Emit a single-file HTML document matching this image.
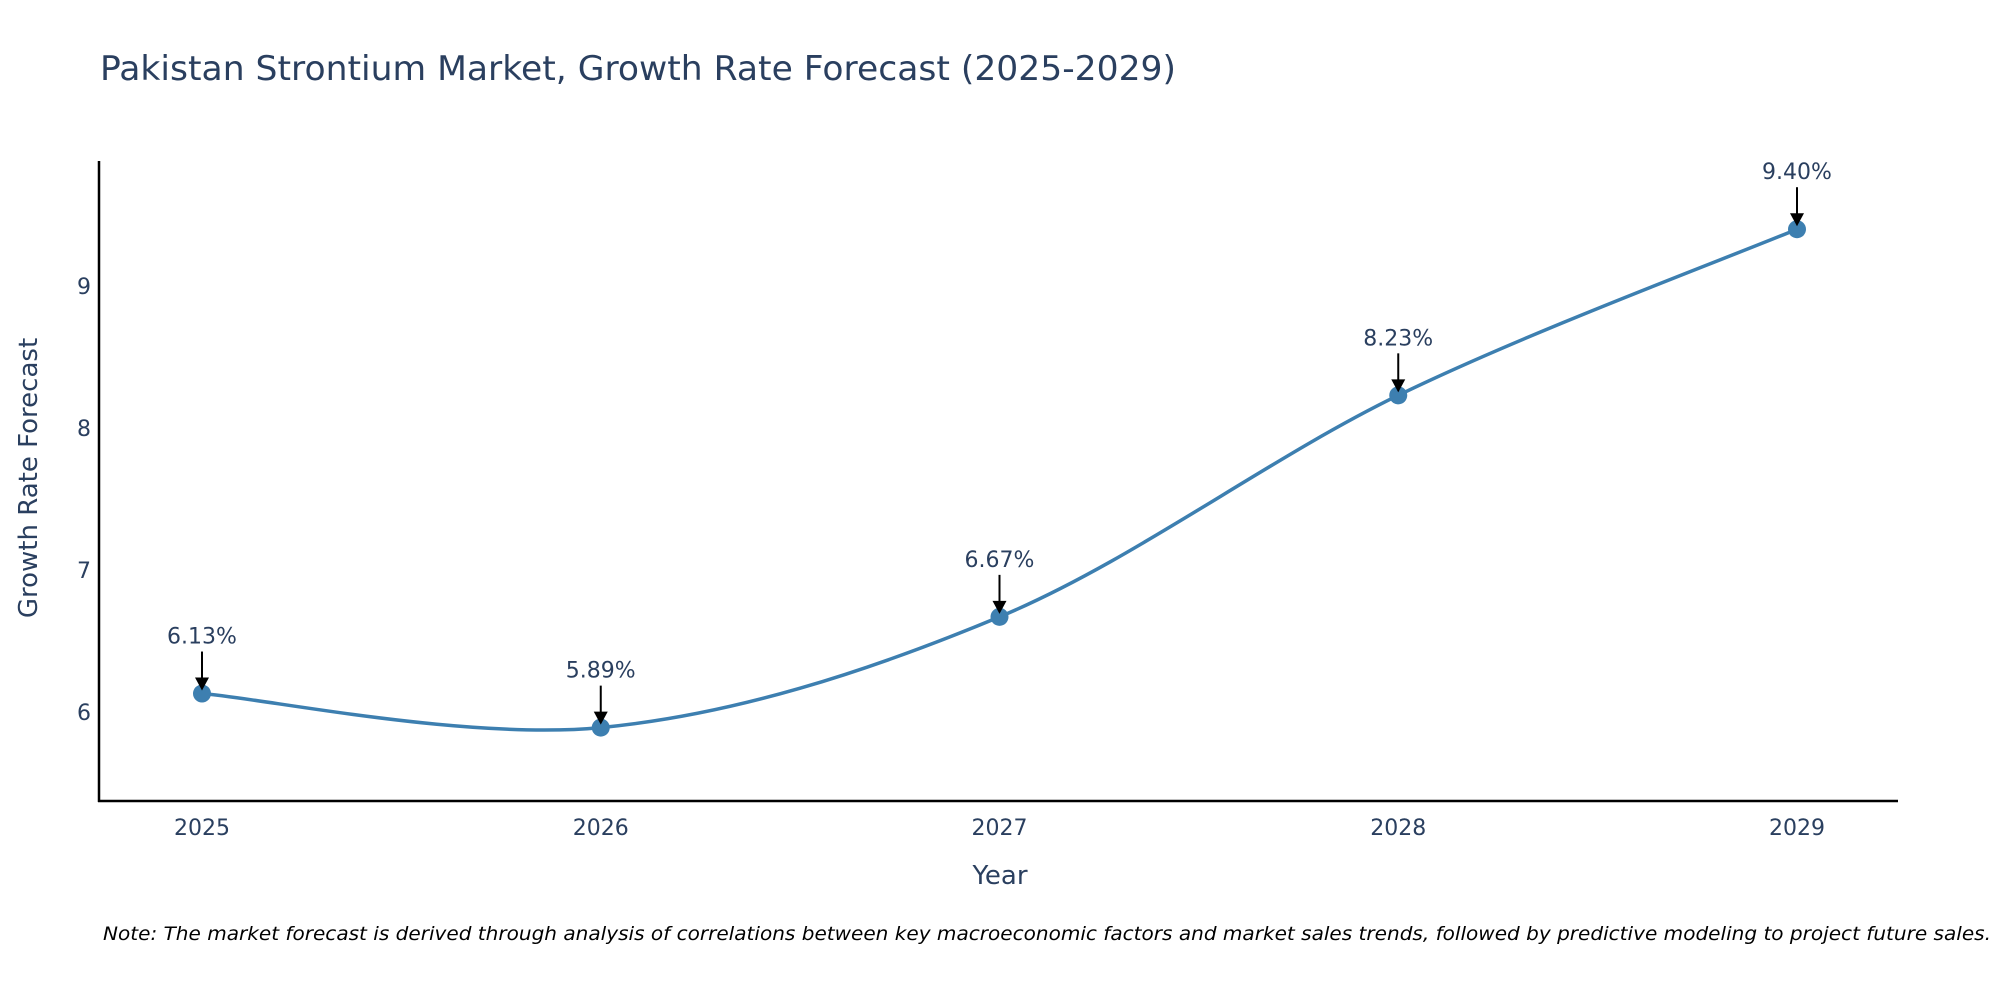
<!DOCTYPE html>
<html><head><meta charset="utf-8"><style>
html,body{margin:0;padding:0;background:#fff;}
svg{display:block;font-family:"DejaVu Sans","Liberation Sans",sans-serif;}
</style></head><body>
<svg id="chart" width="2000" height="1000" viewBox="0 0 2000 1000">
<rect width="2000" height="1000" fill="#fff"/>
<text x="100" y="80" font-size="34" fill="#2a3f5f" textLength="1076" lengthAdjust="spacingAndGlyphs">Pakistan Strontium Market, Growth Rate Forecast (2025-2029)</text>
<g id="yticks"></g>
<g id="xticks"></g>
<g id="series"></g>
<g id="annots"></g>
<line x1="99" y1="161" x2="99" y2="802" stroke="#000" stroke-width="2.5"/>
<line x1="98" y1="801" x2="1898" y2="801" stroke="#000" stroke-width="2.5"/>
<text transform="translate(37,478) rotate(-90)" text-anchor="middle" font-size="26" fill="#2a3f5f">Growth Rate Forecast</text>
<text x="1000" y="884" text-anchor="middle" font-size="26" fill="#2a3f5f">Year</text>
<text x="103" y="940" font-size="19" font-style="italic" fill="#000" textLength="1888" lengthAdjust="spacingAndGlyphs">Note: The market forecast is derived through analysis of correlations between key macroeconomic factors and market sales trends, followed by predictive modeling to project future sales.</text>
</svg>
<script>
const years = [2025, 2026, 2027, 2028, 2029];
const values = [6.13, 5.89, 6.67, 8.23, 9.40];
const valueLabels = ["6.13%", "5.89%", "6.67%", "8.23%", "9.40%"];
const yTicks = [6, 7, 8, 9];

const NS = "http://www.w3.org/2000/svg";
function xs(v){ return 202 + (v - 2025) * 398.75; }
function ys(v){ return 712 - (v - 6) * 142; }
function mk(tag, attrs, parent){ const e = document.createElementNS(NS, tag); for (const k in attrs) e.setAttribute(k, attrs[k]); parent.appendChild(e); return e; }

const yg = document.getElementById('yticks');
yTicks.forEach(t => {
  const e = mk('text', {x: 91, y: ys(t) + 8, 'text-anchor': 'end', 'font-size': 22, fill: '#2a3f5f'}, yg);
  
  
  e.textContent = t;
});
const xg = document.getElementById('xticks');
years.forEach(y => {
  const e = mk('text', {x: xs(y), y: 835, 'text-anchor': 'middle', 'font-size': 22, fill: '#2a3f5f'}, xg);
  
  
  e.textContent = y;
});

const pts = years.map((y, i) => [xs(y), ys(values[i])]);
let d = `M${pts[0][0]},${pts[0][1]}`;
for (let i = 0; i < pts.length - 1; i++) {
  const p0 = pts[Math.max(0, i - 1)], p1 = pts[i], p2 = pts[i + 1], p3 = pts[Math.min(pts.length - 1, i + 2)];
  const c1 = [p1[0] + (p2[0] - p0[0]) / 6, p1[1] + (p2[1] - p0[1]) / 6];
  const c2 = [p2[0] - (p3[0] - p1[0]) / 6, p2[1] - (p3[1] - p1[1]) / 6];
  d += ` C${c1[0]},${c1[1]} ${c2[0]},${c2[1]} ${p2[0]},${p2[1]}`;
}
const sg = document.getElementById('series');
const line = mk('path', {d: d, fill: 'none', stroke: '#3d7fb0', 'stroke-width': 3.5}, sg);


pts.forEach(p => {
  const c = mk('circle', {cx: p[0], cy: p[1], r: 9, fill: '#3d7fb0'}, sg);
  
  
});

const ag = document.getElementById('annots');
pts.forEach((p, i) => {
  const t = mk('text', {x: p[0], y: p[1] - 50, 'text-anchor': 'middle', 'font-size': 22, fill: '#2a3f5f'}, ag);
  
  
  t.textContent = valueLabels[i];
  const l = mk('line', {x1: p[0], y1: p[1] - 42, x2: p[0], y2: p[1] - 14, stroke: '#000', 'stroke-width': 2}, ag);
  
  
  const h = mk('polygon', {points: `${p[0]-7},${p[1]-16} ${p[0]+7},${p[1]-16} ${p[0]},${p[1]-3}`, fill: '#000'}, ag);
  
  
});
</script>
</body></html>
